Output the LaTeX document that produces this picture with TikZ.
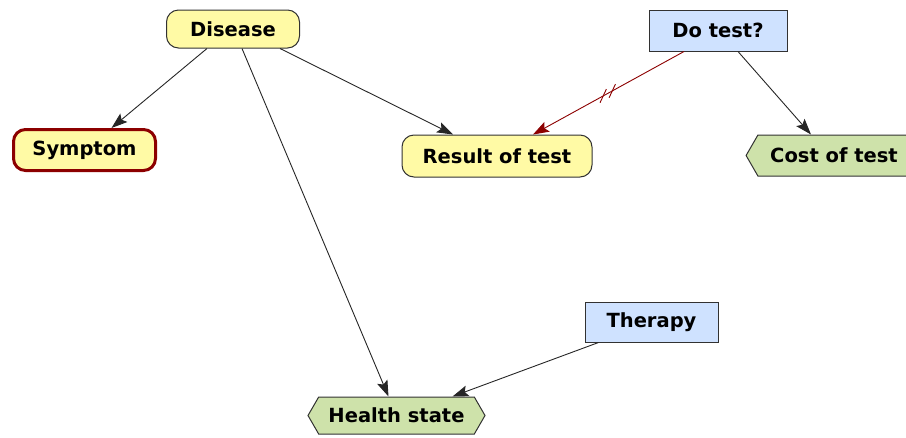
\documentclass[tikz,border=0pt]{standalone}
\usepackage{fontspec}
\setmainfont{DejaVu Sans}
\usetikzlibrary{arrows.meta,shapes.symbols,calc}

\definecolor{chanceyellow}{RGB}{255,250,165}
\definecolor{decblue}{RGB}{207,226,255}
\definecolor{utilgreen}{RGB}{206,226,170}
\definecolor{linkred}{RGB}{140,0,0}
\definecolor{boxline}{RGB}{50,50,50}

\tikzset{
  base/.style={font=\bfseries\fontsize{19.5}{22}\selectfont, inner sep=0pt,
               draw=boxline, line width=1pt, text=black},
  chance/.style={base, rectangle, rounded corners=12pt, fill=chanceyellow},
  evidence/.style={chance, draw=linkred, line width=3pt},
  decision/.style={base, rectangle, fill=decblue},
  utility/.style={base, shape=signal, fill=utilgreen, signal pointer angle=120},
  link/.style={draw=black!85, line width=0.9pt,
               -{Stealth[length=16pt,width=11pt,inset=3pt]}},
  redlink/.style={draw=linkred, line width=0.9pt,
               -{Stealth[length=16pt,width=11pt,inset=3pt]}},
  tick/.style={draw=linkred, line width=0.9pt, rectangle, minimum width=0pt,
               minimum height=15pt, inner sep=0pt, rotate=-25}
}

\begin{document}
\begin{tikzpicture}[x=1pt, y=-1pt]
  \useasboundingbox (0,0) rectangle (906,437);

  % chance nodes
  \node[chance, minimum width=133pt, minimum height=38pt] (ds) at (233,29) {Disease};
  \node[evidence, minimum width=142pt, minimum height=41pt] (sy) at (84.5,150) {Symptom};
  \node[chance, minimum width=190pt, minimum height=42pt] (rt) at (497,156) {Result of test};

  % decision nodes
  \node[decision, minimum width=138pt, minimum height=41pt] (dt) at (718,30.5) {Do test?};
  \node[decision, minimum width=133pt, minimum height=40pt] (th) at (651.5,322) {Therapy};

  % utility nodes
  \node[utility, signal to=west and east, minimum width=177pt, minimum height=37pt]
       (hs) at (396.5,415.5) {Health state};
  \node[utility, signal to=west, minimum width=164pt, minimum height=41pt]
       (ct) at (834,155.5) {Cost of test};

  % links
  \draw[link] ($(ds.south)+(-26,0)$) -- ($(sy.north)+(27,0)$);
  \draw[link] ($(ds.south)+(47,0)$) -- ($(rt.north)+(-44,0)$);
  \draw[link] ($(ds.south)+(9,0)$) -- ($(hs.north)+(-8,0)$);
  \draw[link] ($(dt.south)+(20,0)$) -- ($(ct.north)+(-23,0)$);
  \draw[link] ($(th.south)+(-53,0)$) -- ($(hs.north)+(56,0)$);
  \draw[redlink] ($(dt.south)+(-34,0)$) -- ($(rt.north)+(36,0)$)
        node[tick, pos=0.475] (k1) {}
        node[tick, pos=0.535] (k2) {};
\end{tikzpicture}
\end{document}
